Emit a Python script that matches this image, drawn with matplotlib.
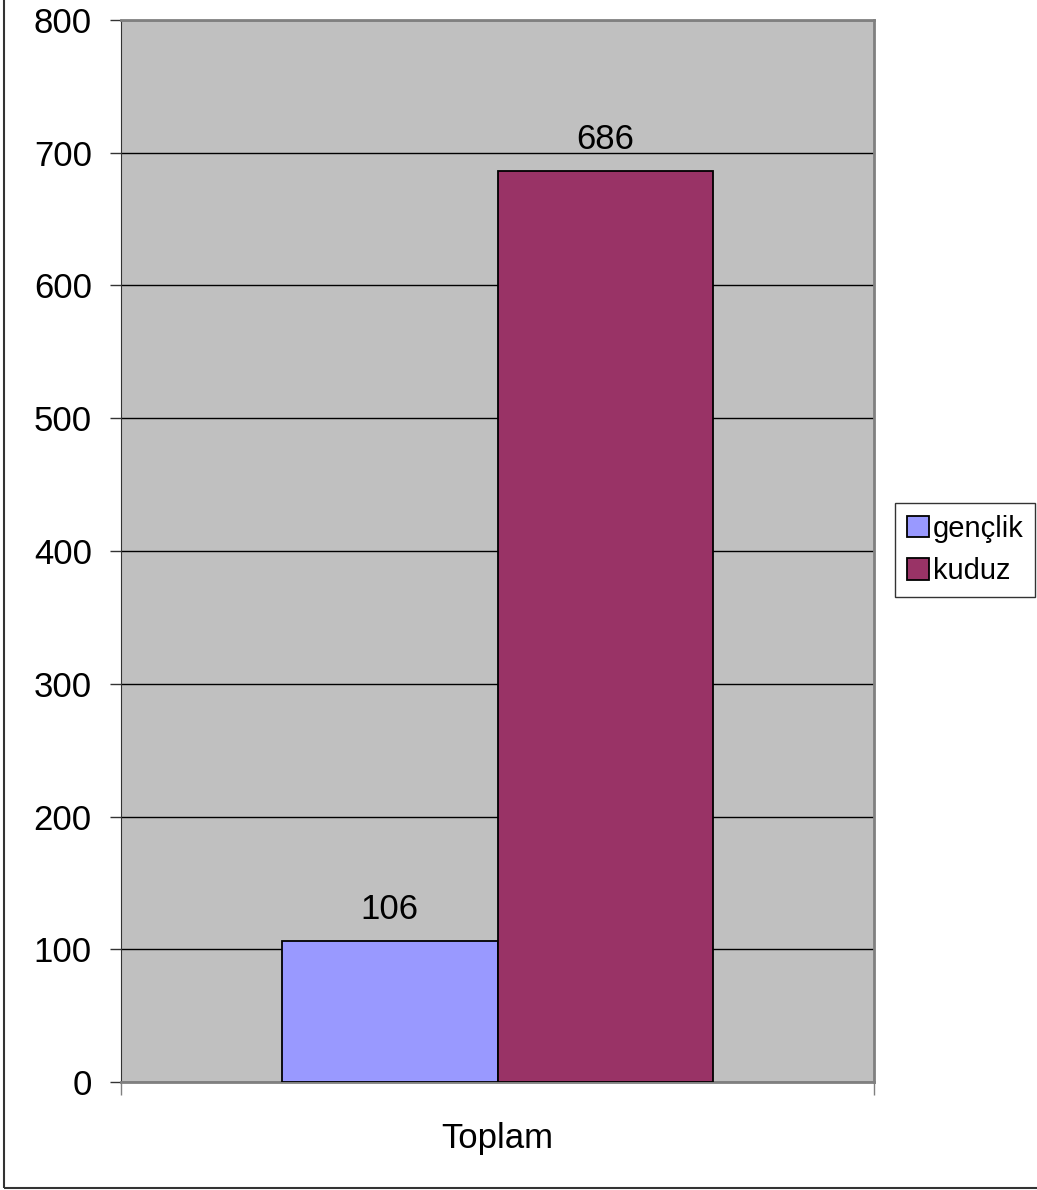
import numpy as np
import matplotlib.pyplot as plt
from matplotlib.patches import Rectangle

plt.rcParams['font.family'] = ['Liberation Sans', 'DejaVu Sans']

category = "Toplam"
series = ["gençlik", "kuduz"]
values = [106, 686]
colors = ["#9999ff", "#993366"]
yticks = [0, 100, 200, 300, 400, 500, 600, 700, 800]

W, H = 1037, 1190
fig = plt.figure(figsize=(W / 100, H / 100), dpi=100)
ax = fig.add_axes([121 / W, 1 - 1082 / H, (874 - 121) / W, (1082 - 20) / H])
ax.set_facecolor("#c0c0c0")

bw = 0.286
x = np.array([-bw / 2, bw / 2])
bars = ax.bar(x, values, width=bw, color=colors, edgecolor="black", linewidth=1.3,
              label=series, zorder=3)
for b, v in zip(bars, values):
    ax.text(b.get_x() + b.get_width() / 2, v + 16.5, str(v), ha="center",
            va="baseline", fontsize=25, zorder=4)

ax.set_xlim(-0.5, 0.5)
ax.set_ylim(0, 800)
ax.set_yticks(yticks)
ax.set_yticklabels([str(t) for t in yticks], fontsize=25)
ax.yaxis.grid(True, color="black", linewidth=1)
ax.set_axisbelow(True)
ax.tick_params(axis="y", length=8, width=1, color="#333333", pad=13)

ax.set_xticks([-0.5, 0.5])
ax.set_xticklabels(["", ""])
ax.tick_params(axis="x", length=9, width=1, color="#808080")
ax.text(0.5, -40 / 1062, category, transform=ax.transAxes, ha="center",
        va="top", fontsize=25)

for s in ["top", "right"]:
    ax.spines[s].set_color("#808080")
    ax.spines[s].set_linewidth(2)
ax.spines["left"].set_color("#333333")
ax.spines["bottom"].set_color("#808080")
ax.spines["bottom"].set_linewidth(2)

leg = ax.legend(loc="center left", bbox_to_anchor=(895 / W, 1 - 550 / H),
                bbox_transform=fig.transFigure, fontsize=21, frameon=True,
                fancybox=False, edgecolor="black", handlelength=0.75,
                handleheight=0.75, handletextpad=0.15, borderpad=0.4,
                labelspacing=0.5, borderaxespad=0)
leg.get_frame().set_linewidth(1)

fig.patches.append(Rectangle((4 / W, 2 / H), 1.2, 1.2, transform=fig.transFigure,
                             fill=False, edgecolor="#333333", linewidth=1.5))

fig.savefig("out.png", dpi=100)
